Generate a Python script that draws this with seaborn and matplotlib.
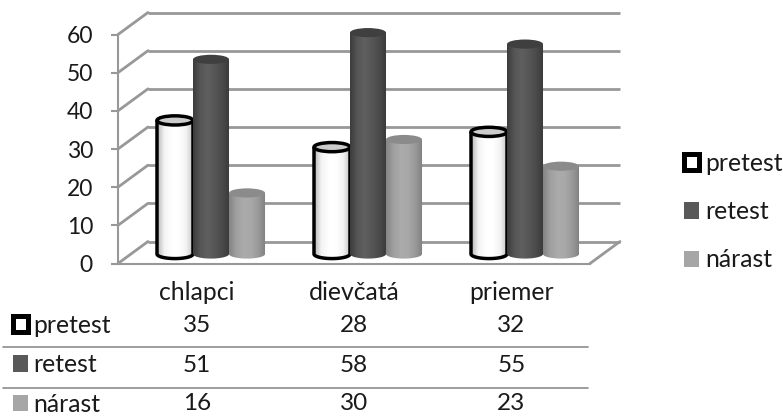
import numpy as np
import pandas as pd
import matplotlib
matplotlib.use("Agg")
import matplotlib.pyplot as plt
import seaborn as sns
from matplotlib.colors import LinearSegmentedColormap
from matplotlib.lines import Line2D
from matplotlib.patches import ConnectionPatch, Ellipse, Patch, Polygon
from matplotlib.transforms import blended_transform_factory

categories = ["chlapci", "dievčatá", "priemer"]
series_names = ["pretest", "retest", "nárast"]
pretest = [35, 28, 32]
retest = [51, 58, 55]
narast = [16, 30, 23]
y_ticks = [0, 10, 20, 30, 40, 50, 60]

W, H = 783, 418
GRID = "#989898"
TEXT = "#1a1a1a"
FS_TEXT = 17.8
FS_NUM = 16.5

sns.set_theme(style="white")
plt.rcParams["font.family"] = ["Lato", "DejaVu Sans"]
plt.rcParams.update({"font.size": 17.5, "xtick.labelsize": FS_TEXT, "ytick.labelsize": FS_NUM,
                     "legend.fontsize": FS_TEXT})

fig = plt.figure(figsize=(W / 100, H / 100), dpi=100)


def pixel_axes(left, top, right, bottom):
    """Axes placed by its pixel edges, measured from the top-left corner."""
    ax = fig.add_axes([left / W, 1 - bottom / H, (right - left) / W, (bottom - top) / H])
    ax.set_xlim(-0.5, 2.5)
    ax.set_ylim(0, 60)
    ax.patch.set_alpha(0)
    return ax


# Three planes of the pseudo-3D box: back wall, front edge and the bar plane.
back = pixel_axes(148, 12.5, 620, 241.5)
front = pixel_axes(118, 34.5, 590, 263.5)
bars_ax = pixel_axes(132.5, 25, 603.5, 254)

back.axis("off")
back.hlines(y_ticks, -0.5, 2.5, color=GRID, lw=2, clip_on=False)

for v in y_ticks:
    fig.add_artist(ConnectionPatch((-0.5, v), (-0.5, v), "data", "data",
                                   axesA=front, axesB=back, color=GRID, lw=2))
fig.add_artist(ConnectionPatch((2.5, 0), (2.5, 0), "data", "data",
                               axesA=front, axesB=back, color=GRID, lw=2))

for side in ("top", "right"):
    front.spines[side].set_visible(False)
for side in ("left", "bottom"):
    front.spines[side].set_color(GRID)
    front.spines[side].set_linewidth(1.5)
front.set_yticks(y_ticks)
front.set_xticks(range(3), categories)
front.tick_params(axis="y", length=5, width=1.5, color=GRID, pad=13, labelcolor=TEXT, left=True)
front.tick_params(axis="x", length=0, pad=12.5, labelcolor=TEXT)

# Cylinders: seaborn lays out the bars, each is then shaded as a round column.
long_df = pd.DataFrame({
    "category": np.tile(categories, 3),
    "series": np.repeat(series_names, 3),
    "value": pretest + retest + narast,
})
sns.barplot(data=long_df, x="category", y="value", hue="series", hue_order=series_names,
            order=categories, width=0.688, gap=0, dodge=True, legend=False, errorbar=None,
            palette=["#ffffff", "#4f4f4f", "#a6a6a6"], ax=bars_ax, saturation=1)
bars_ax.set_xlim(-0.5, 2.5)
bars_ax.set_ylim(0, 60)
bars_ax.axis("off")

shades = {
    "pretest": (["#b4b4b4", "#f4f4f4", "#ffffff", "#ffffff", "#f2f2f2", "#bdbdbd"], "#cccccc", "black", 2.5),
    "retest": (["#3c3c3c", "#565656", "#5f5f5f", "#565656", "#4a4a4a", "#393939"], "#3f3f3f", "none", 0),
    "nárast": (["#848484", "#a0a0a0", "#ababab", "#a8a8a8", "#999999", "#7f7f7f"], "#8b8b8b", "none", 0),
}
CAP = 2.4  # cap ellipse height in value units
ramp = np.linspace(0, 1, 128).reshape(1, -1)
bar_patches = [p for p in bars_ax.patches]
n = len(categories)
for s, name in enumerate(series_names):
    stops, cap_color, edge, lw = shades[name]
    cmap = LinearSegmentedColormap.from_list(name, stops)
    for i in range(n):
        bar = bar_patches[s * n + i]
        x0, w, h = bar.get_x(), bar.get_width(), bar.get_height()
        cx = x0 + w / 2
        t = np.linspace(np.pi, 2 * np.pi, 60)
        lower = np.column_stack([cx + w / 2 * np.cos(t), CAP / 2 * np.sin(t)])
        outline = np.vstack([[x0, h], lower, [x0 + w, h]])
        z = 3 + s
        body = Polygon(outline, closed=True, fc="none", ec="none",
                       transform=bars_ax.transData, clip_on=False)
        bars_ax.add_patch(body)
        bar.set_clip_path(body)
        img = bars_ax.imshow(ramp, cmap=cmap, extent=(x0, x0 + w, -CAP, h), aspect="auto",
                             zorder=z)
        img.set_clip_box(fig.bbox)
        img.set_clip_path(body)
        if lw:
            rim = Polygon(outline, closed=False, fc="none", ec=edge, lw=lw, zorder=z + 0.1,
                          clip_on=False, joinstyle="round")
            bars_ax.add_patch(rim)
        bars_ax.add_patch(Ellipse((cx, h), w, CAP, fc=cap_color, ec=edge, lw=lw,
                                  zorder=z + 0.2, clip_on=False))
bars_ax.set_xlim(-0.5, 2.5)
bars_ax.set_ylim(0, 60)


def key_handles():
    return [
        Patch(fc="white", ec="black", lw=3.6, joinstyle="round"),
        Patch(fc="#595959", ec="none"),
        Patch(fc="#a6a6a6", ec="none"),
    ]


legend_style = dict(loc="upper left", bbox_transform=fig.transFigure, frameon=False,
                    handlelength=0.62, handleheight=0.64, handletextpad=0.22,
                    labelcolor=TEXT, borderpad=0, borderaxespad=0)

# Legend to the right of the plot.
fig.legend(key_handles(), series_names, bbox_to_anchor=(684 / W, 1 - 152 / H),
           labelspacing=1.02, **legend_style)

# Data table under the chart: row keys and names, then the values per category.
fig.legend(key_handles(), series_names, bbox_to_anchor=(12.5 / W, 1 - 314 / H),
           labelspacing=0.66, **legend_style)

row_centres = [326, 365, 404]
to_table = blended_transform_factory(front.transData, fig.transFigure)
for row, values in zip(row_centres, [pretest, retest, narast]):
    for i, v in enumerate(values):
        front.text(i, 1 - row / H, str(v), transform=to_table, ha="center", va="center",
                   color=TEXT, clip_on=False)

for y in (346.5, 387.5):
    fig.add_artist(Line2D([3 / W, 588 / W], [1 - y / H, 1 - y / H], color="#8c8c8c", lw=1.2))

fig.savefig("out.png", dpi=100, facecolor="white")
